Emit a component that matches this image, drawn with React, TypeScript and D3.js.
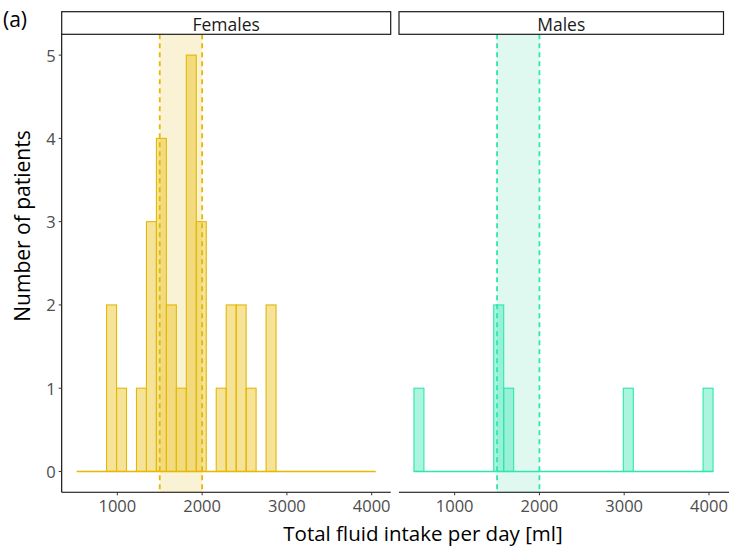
import React from "react";
import * as d3 from "d3";

const panels = ["Females", "Males"];
const binStart = 520;
const binWidth = 117.6;
const femaleCounts = [0, 0, 0, 2, 1, 0, 1, 3, 4, 2, 1, 5, 3, 0, 1, 2, 2, 1, 0, 2, 0, 0, 0, 0, 0, 0, 0, 0, 0, 0];
const maleCounts = [1, 0, 0, 0, 0, 0, 0, 0, 2, 1, 0, 0, 0, 0, 0, 0, 0, 0, 0, 0, 0, 1, 0, 0, 0, 0, 0, 0, 0, 1];
const refRange = [1500, 2000];
const xTicks = [1000, 2000, 3000, 4000];
const yTicks = [0, 1, 2, 3, 4, 5];
const lineColors = ["#E7B800", "#2EE6AE"];
const shadeColors = ["#FAF2D4", "#DFF9F1"];

const W = 729;
const H = 551;
const panelTop = 34.3;
const panelBottom = 492.3;
const panelLefts = [61.7, 399];
const panelWidth = 329;
const stripTop = 11.7;

export default function App() {
  const counts = [femaleCounts, maleCounts];
  const nBins = femaleCounts.length;
  const dataMin = binStart;
  const dataMax = binStart + nBins * binWidth;
  const pad = (dataMax - dataMin) * 0.05;
  const y = d3.scaleLinear().domain([-0.25, 5.25]).range([panelBottom, panelTop]);
  const font = "'Open Sans', sans-serif";

  return (
    <svg width={W} height={H} style={{ display: "block", position: "absolute", left: 0, top: 0 }} fontFamily={font}>
      <rect x={0} y={0} width={W} height={H} fill="#fff" />
      {panels.map((name, pi) => {
        const x0 = panelLefts[pi];
        const x = d3.scaleLinear().domain([dataMin - pad, dataMax + pad]).range([x0, x0 + panelWidth]);
        const c = counts[pi];
        const col = lineColors[pi];
        return (
          <g key={name}>
            <rect
              x={x(refRange[0])}
              y={panelTop}
              width={x(refRange[1]) - x(refRange[0])}
              height={panelBottom - panelTop}
              fill={shadeColors[pi]}
            />
            {c.map((v, i) => {
              if (v === 0) return null;
              const bx0 = x(binStart + i * binWidth);
              const bx1 = x(binStart + (i + 1) * binWidth);
              return (
                <rect
                  key={i}
                  x={bx0}
                  y={y(v)}
                  width={bx1 - bx0}
                  height={y(0) - y(v)}
                  fill={col}
                  fillOpacity={0.4}
                  stroke={col}
                  strokeWidth={1.1}
                />
              );
            })}
            {/* zero-count baseline of the histogram */}
            <line x1={x(dataMin)} x2={x(dataMax)} y1={y(0)} y2={y(0)} stroke={col} strokeWidth={1.4} />
            {refRange.map((r) => (
              <line
                key={r}
                x1={x(r)}
                x2={x(r)}
                y1={panelTop}
                y2={panelBottom}
                stroke={col}
                strokeWidth={1.8}
                strokeDasharray="5,4"
              />
            ))}
            <rect
              x={x0}
              y={stripTop}
              width={pi === 1 ? 324.5 : panelWidth}
              height={panelTop - stripTop}
              fill="#fff"
              stroke="#1a1a1a"
              strokeWidth={1.2}
            />
            <text
              x={x0 + (pi === 1 ? 324.5 : panelWidth) / 2}
              y={(stripTop + panelTop) / 2 + 0.5}
              textAnchor="middle"
              dominantBaseline="central"
              fontSize={17.5}
              fill="#1a1a1a"
            >
              {name}
            </text>
            <line x1={x0} x2={pi === 1 ? W : x0 + panelWidth} y1={panelBottom} y2={panelBottom} stroke="#000" strokeWidth={1.1} />
            {xTicks.map((t) => (
              <g key={t}>
                <line x1={x(t)} x2={x(t)} y1={panelBottom} y2={panelBottom + 3} stroke="#333" strokeWidth={1} />
                <text x={x(t)} y={panelBottom + 13} textAnchor="middle" dominantBaseline="central" fontSize={16.5} fill="#4d4d4d">
                  {t}
                </text>
              </g>
            ))}
          </g>
        );
      })}
      <line x1={panelLefts[0]} x2={panelLefts[0]} y1={panelTop} y2={panelBottom} stroke="#000" strokeWidth={1.1} />
      {yTicks.map((t) => (
        <g key={t}>
          <line x1={panelLefts[0] - 3} x2={panelLefts[0]} y1={y(t)} y2={y(t)} stroke="#333" strokeWidth={1} />
          <text x={panelLefts[0] - 6} y={y(t)} textAnchor="end" dominantBaseline="central" fontSize={16.5} fill="#4d4d4d">
            {t}
          </text>
        </g>
      ))}
      <text
        transform={`translate(22, 226) rotate(-90)`}
        textAnchor="middle"
        dominantBaseline="central"
        fontSize={21}
        fill="#000"
      >
        Number of patients
      </text>
      <text x={423} y={533} textAnchor="middle" dominantBaseline="central" fontSize={20.5} fill="#000">
        Total fluid intake per day [ml]
      </text>
      <text x={3} y={19} dominantBaseline="central" fontSize={21} fill="#000">
        (a)
      </text>
    </svg>
  );
}
